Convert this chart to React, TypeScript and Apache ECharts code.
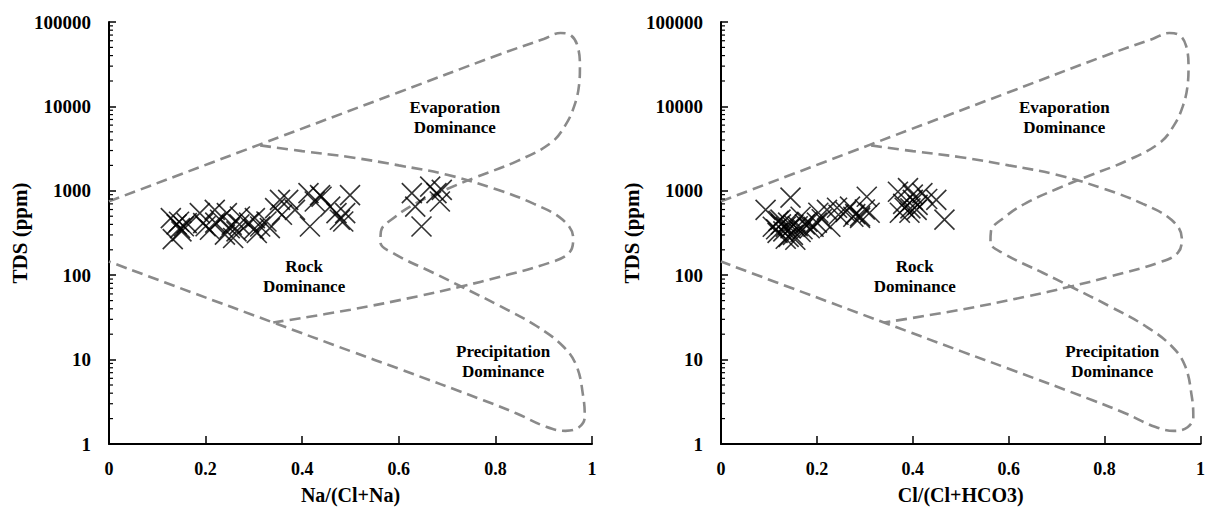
import React, { useEffect, useRef } from 'react';
import * as echarts from 'echarts';

// Axis ticks
const xTicks = [0, 0.2, 0.4, 0.6, 0.8, 1];
const yTicks = [1, 10, 100, 1000, 10000, 100000];
const minorMultipliers = [2, 3, 4, 5, 6, 7, 8, 9];

// Left panel samples: Na/(Cl+Na) vs TDS
const leftX = [0.128, 0.147, 0.132, 0.161, 0.150, 0.188, 0.195, 0.209, 0.219, 0.23, 0.244, 0.254, 0.24, 0.264, 0.271, 0.257, 0.302, 0.313, 0.306, 0.326, 0.333, 0.344, 0.358, 0.371, 0.385, 0.413, 0.426, 0.416, 0.44, 0.458, 0.471, 0.489, 0.478, 0.499, 0.437, 0.354, 0.485, 0.14, 0.155, 0.145, 0.2, 0.22, 0.25, 0.27, 0.29, 0.3, 0.627, 0.665, 0.689, 0.634, 0.685, 0.647, 0.678];
const leftTDS = [475, 361, 268, 414, 330, 544, 414, 346, 595, 454, 544, 396, 302, 330, 496, 276, 475, 378, 316, 433, 361, 623, 520, 781, 595, 937, 746, 378, 850, 650, 544, 544, 454, 890, 890, 780, 433, 400, 380, 430, 380, 420, 360, 400, 420, 350, 937, 1120, 1025, 650, 746, 378, 937];

// Right panel samples: Cl/(Cl+HCO3) vs TDS
const rightX = [0.093, 0.145, 0.108, 0.118, 0.124, 0.135, 0.141, 0.151, 0.155, 0.166, 0.166, 0.18, 0.193, 0.203, 0.221, 0.228, 0.242, 0.269, 0.276, 0.29, 0.304, 0.31, 0.369, 0.39, 0.383, 0.40, 0.408, 0.42, 0.449, 0.466, 0.373, 0.393, 0.115, 0.125, 0.13, 0.14, 0.145, 0.15, 0.16, 0.17, 0.135, 0.12, 0.175, 0.185, 0.2, 0.21, 0.245, 0.26, 0.28, 0.3, 0.29, 0.38, 0.41, 0.4, 0.43, 0.395];
const rightTDS = [595, 830, 375, 317, 455, 375, 285, 396, 263, 492, 325, 430, 375, 550, 595, 375, 630, 650, 492, 478, 850, 550, 975, 1075, 630, 780, 595, 940, 780, 455, 550, 550, 350, 400, 330, 420, 360, 300, 380, 350, 270, 440, 400, 360, 420, 460, 520, 560, 530, 600, 500, 700, 680, 900, 800, 620];

// Gibbs boundary curves (same in both panels)
const outerX = [0, 0.31, 0.6, 0.8, 0.9, 0.935, 0.957, 0.97, 0.975, 0.973, 0.963, 0.945, 0.915, 0.845, 0.76, 0.7, 0.637, 0.59, 0.563, 0.562, 0.59, 0.671, 0.73, 0.81, 0.885, 0.94, 0.968, 0.982, 0.985, 0.973, 0.945, 0.905, 0.844, 0.775, 0.6, 0.5, 0.34, 0.17, 0];
const outerTDS = [750, 3500, 14700, 39600, 63000, 74000, 69000, 52000, 30000, 17500, 10000, 6000, 3700, 2250, 1450, 1050, 720, 480, 330, 245, 180, 107, 73, 43, 25, 14.4, 8.4, 3.6, 2.1, 1.58, 1.43, 1.6, 2.3, 3.3, 7.8, 12.6, 27.5, 63, 145];
const innerX = [0.313, 0.4, 0.5, 0.6, 0.7, 0.8, 0.88, 0.94, 0.961, 0.953, 0.913, 0.81, 0.727, 0.638, 0.5, 0.34];
const innerTDS = [3450, 2950, 2500, 2000, 1550, 1050, 700, 450, 275, 185, 141, 96, 73, 56, 39, 27.5];

// Region labels
const regionNames = ['Evaporation\nDominance', 'Rock\nDominance', 'Precipitation\nDominance'];
const regionX = [0.716, 0.404, 0.816];
const regionTDS = [7400, 96, 9.6];

const FONT = 'Liberation Serif';
const X_SYMBOL = 'path://M0,0L20,20M20,0L0,20';

function pairs(xs: number[], ys: number[]) {
  return xs.map((x, i) => [x, ys[i]]);
}

export default function App() {
  const ref = useRef<HTMLDivElement>(null);
  useEffect(() => {
    if (!ref.current) return;
    const chart = echarts.init(ref.current, undefined, { renderer: 'svg' });
    const grids = [
      { left: 109, top: 22, width: 483, height: 423 },
      { left: 721, top: 22, width: 483, height: 423 },
    ];
    const xNames = ['Na/(Cl+Na)', 'Cl/(Cl+HCO3)'];
    const samples = [pairs(leftX, leftTDS), pairs(rightX, rightTDS)];
    const minorData: number[][] = [];
    yTicks.slice(0, -1).forEach((d) => minorMultipliers.forEach((m) => minorData.push([0, d * m])));

    const xAxis = grids.map((_, i) => ({
      type: 'value',
      gridIndex: i,
      min: xTicks[0],
      max: xTicks[xTicks.length - 1],
      interval: 0.2,
      name: xNames[i],
      nameLocation: 'middle',
      nameGap: 41,
      nameTextStyle: { fontFamily: FONT, fontWeight: 'bold', fontSize: 20, color: '#000' },
      axisLine: { show: true, onZero: false, lineStyle: { color: '#000', width: 2 } },
      axisTick: { show: true, inside: true, length: 8, lineStyle: { color: '#000', width: 1.5 } },
      axisLabel: { margin: 16, fontFamily: FONT, fontWeight: 'bold', fontSize: 18, color: '#000' },
      splitLine: { show: false },
    }));
    const yAxis = grids.map((_, i) => ({
      type: 'log',
      logBase: 10,
      gridIndex: i,
      min: yTicks[0],
      max: yTicks[yTicks.length - 1],
      name: 'TDS (ppm)',
      nameLocation: 'middle',
      nameGap: 74,
      nameTextStyle: { fontFamily: FONT, fontWeight: 'bold', fontSize: 21, color: '#000' },
      axisLine: { show: true, onZero: false, lineStyle: { color: '#000', width: 2 } },
      axisTick: { show: true, inside: true, length: 7, lineStyle: { color: '#000', width: 1.5 } },
      axisLabel: {
        margin: 18,
        fontFamily: FONT,
        fontWeight: 'bold',
        fontSize: 19,
        color: '#000',
        formatter: (v: number) => String(Math.round(v)),
      },
      splitLine: { show: false },
    }));

    const series: any[] = [];
    grids.forEach((_, i) => {
      const curveStyle = { color: '#8a8a8a', width: 2.6, type: [11, 6] };
      series.push({
        type: 'line', xAxisIndex: i, yAxisIndex: i, data: pairs(outerX, outerTDS),
        smooth: 0.4, symbol: 'none', lineStyle: curveStyle, silent: true, z: 1,
      });
      series.push({
        type: 'line', xAxisIndex: i, yAxisIndex: i, data: pairs(innerX, innerTDS),
        smooth: 0.4, symbol: 'none', lineStyle: curveStyle, silent: true, z: 1,
      });
      series.push({
        type: 'scatter', xAxisIndex: i, yAxisIndex: i, data: samples[i],
        symbol: X_SYMBOL, symbolSize: 20,
        itemStyle: { color: 'none', borderColor: '#000', borderWidth: 1.6 }, z: 3,
      });
      series.push({
        type: 'custom', xAxisIndex: i, yAxisIndex: i, data: minorData, silent: true, z: 5,
        renderItem: (_p: any, api: any) => {
          const c = api.coord([api.value(0), api.value(1)]);
          return {
            type: 'line',
            shape: { x1: c[0], y1: c[1], x2: c[0] + 4, y2: c[1] },
            style: { stroke: '#000', lineWidth: 1.2 },
          };
        },
      });
    });

    chart.setOption({
      animation: false,
      backgroundColor: '#fff',
      grid: grids,
      xAxis,
      yAxis,
      series,
    });

    // Region labels placed through the axes' own scales
    const graphic: any[] = [];
    grids.forEach((_, i) => {
      regionNames.forEach((n, k) => {
        const p = chart.convertToPixel({ xAxisIndex: i, yAxisIndex: i } as any, [regionX[k], regionTDS[k]]) as number[];
        graphic.push({
          type: 'text',
          x: p[0],
          y: p[1],
          z: 10,
          silent: true,
          style: {
            text: n,
            fill: '#000',
            font: `bold 17px ${FONT}`,
            fontFamily: FONT,
            fontWeight: 'bold',
            fontSize: 17,
            lineHeight: 20,
            align: 'center',
            verticalAlign: 'middle',
          },
        });
      });
    });
    chart.setOption({ graphic });

    return () => chart.dispose();
  }, []);
  return <div ref={ref} style={{ position: 'absolute', left: 0, top: 0, width: 1208, height: 510 }} />;
}
